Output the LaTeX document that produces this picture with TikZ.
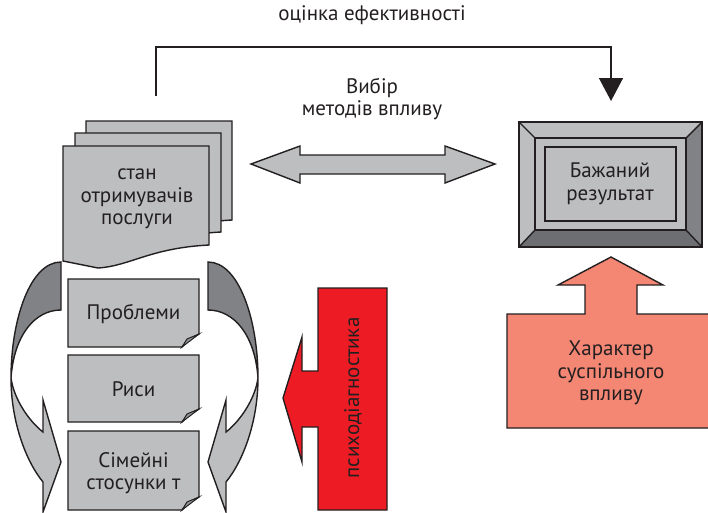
\documentclass[tikz,border=0pt]{standalone}
\usepackage{fontspec}
\setmainfont{PT Sans}
\usetikzlibrary{arrows.meta}
\definecolor{ink}{HTML}{231F20}
\definecolor{lgray}{HTML}{BCBEC0}
\definecolor{dgray}{HTML}{808285}
\definecolor{mgray}{HTML}{939598}
\definecolor{bgray}{HTML}{6D6E71}
\definecolor{psyred}{HTML}{ED1C24}
\definecolor{salmon}{HTML}{F48674}

\begin{document}
\begin{tikzpicture}
        [x=1pt, y=-1pt,
        outl/.style={draw=ink, line width=1.4pt, line join=miter},
        sheet/.style={outl, fill=lgray},
        lbl/.style={text=ink, align=center, font=\fontsize{21}{22.5}\selectfont},
        fb/.style={-{Triangle[length=23pt,width=24pt]}, draw=ink, line width=1.4pt}]
        \useasboundingbox (0,0) rectangle (708,512);

        % feedback loop on top
        \node (eval) at (372,15) [lbl] {оцінка ефективності};
        \coordinate (fbstart) at (156,96);
        \coordinate (fbend) at (611,101);
        \draw[fb] (fbstart) -- (156,47) -- (611,47) -- (fbend);

        % stack of pages
        \foreach \dx/\dy in {23/-25, 12/-13, 0/0}
          \draw[sheet, shift={(\dx,\dy)}] (63,146) -- (209,146) -- (209,245)
             .. controls (150,248) and (130,266) .. (98,268) -- (63,261) -- cycle;
        \node (state) at (137,199) [lbl] {стан\\отримувачів\\послуги};

        % double arrow
        \draw[sheet] (251,164) -- (300,146) -- (300,155) -- (445,155) -- (445,146)
           -- (495,164) -- (445,183) -- (445,174) -- (300,174) -- (300,183) -- cycle;
        \node (choice) at (372,99) [lbl] {Вибір\\методів впливу};

        % framed result
        \fill[lgray] (519,122) rectangle (702,247);
        \fill[dgray] (702,122) -- (686,138) -- (686,230) -- (702,247) -- cycle;
        \fill[bgray] (519,247) -- (535,230) -- (686,230) -- (702,247) -- cycle;
        \draw[outl] (519,122) rectangle (702,247);
        \draw[outl] (535,138) rectangle (686,230);
        \draw[outl] (519,122) -- (535,138) (702,122) -- (686,138)
                    (519,247) -- (535,230) (702,247) -- (686,230);
        \draw[outl] (545,147) rectangle (676,221);
        \node (res) at (610,184) [lbl] {Бажаний\\результат};

        % small sheets
        \foreach \y/\h in {279/68, 355/67, 431/79} {
          \draw[sheet] (68,\y) -- (199,\y) -- (199,\y+\h-13)
             .. controls (192,\y+\h-9) and (186,\y+\h-5) .. (182,\y+\h) -- (68,\y+\h) -- cycle;
          \draw[outl, fill=mgray, line width=1pt] (182,\y+\h) -- (187,\y+\h-8) -- (199,\y+\h-13) -- cycle;
        }
        \node (probl) at (133.5,314) [lbl] {Проблеми};
        \node (traits) at (133.5,389) [lbl] {Риси};
        \node (family) at (133.5,473) [lbl] {Сімейні\\стосунки т};

        % curved arrows around the sheets
        \foreach \m/\s in {0/1, 269/-1} {
          \begin{scope}[xshift=\m pt, xscale=\s]
            \draw[outl, fill=dgray] (61,262) .. controls (30,262) and (11,320) .. (11,378)
               .. controls (14,335) and (35,310) .. (61,310) -- cycle;
            \draw[outl, fill=lgray] (11,378) .. controls (11,420) and (25,460) .. (43,482)
               -- (43,512) -- (61,462) -- (43,400) -- (43,432)
               .. controls (30,422) and (14,400) .. (11,378) -- cycle;
          \end{scope}
        }

        % psychodiagnostics arrow
        \draw[outl, fill=psyred] (318,288) -- (387,288) -- (387,510) -- (318,510)
           -- (318,427) -- (302,427) -- (302,462) -- (283,398) -- (302,337)
           -- (302,371) -- (318,371) -- cycle;
        \node (psy) at (353,398) [lbl, rotate=90] {психодіагностика};

        % social impact arrow
        \draw[outl, fill=salmon] (507,314) -- (585,314) -- (585,285) -- (558,285)
           -- (611,257) -- (663,285) -- (637,285) -- (637,314) -- (712,314)
           -- (712,428) -- (507,428) -- cycle;
        \node (impact) at (611,373) [lbl] {Характер\\суспільного\\впливу};
\end{tikzpicture}
\end{document}
